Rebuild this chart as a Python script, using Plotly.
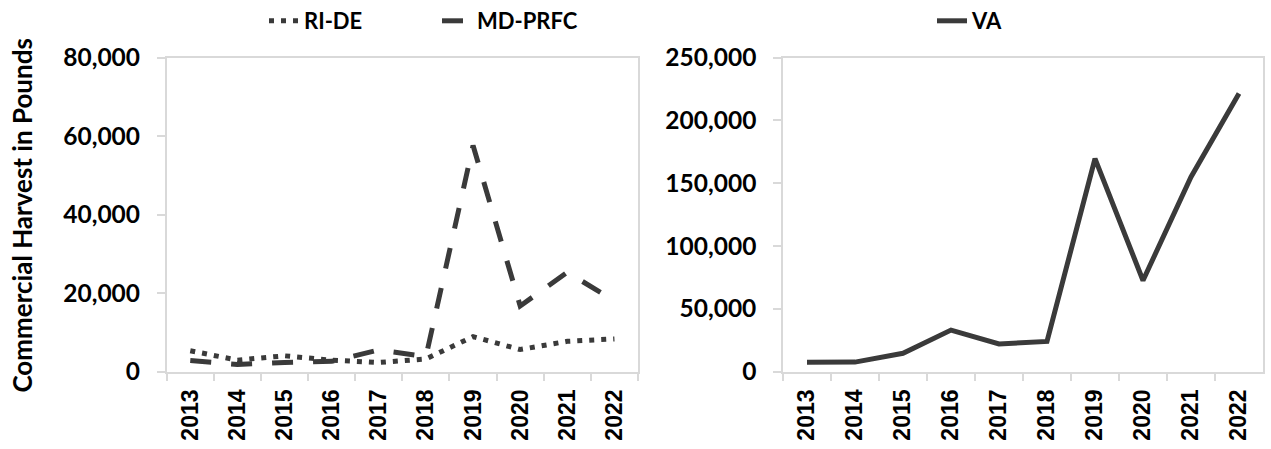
import plotly.graph_objects as go

years = ["2013", "2014", "2015", "2016", "2017", "2018", "2019", "2020", "2021", "2022"]
ri_de = [5300, 2900, 4000, 2900, 2300, 3200, 8900, 5600, 7700, 8300]
md_prfc = [2800, 1800, 2300, 2600, 5500, 3800, 57600, 16700, 25300, 18000]
va = [7400, 7500, 14500, 33000, 21900, 24000, 169600, 72500, 155000, 221500]

left_ticks = [0, 20000, 40000, 60000, 80000]
right_ticks = [0, 50000, 100000, 150000, 200000, 250000]

W, H = 1271, 449
LINE = "#3a3a3a"
GRID = "#d9d9d9"

fig = go.Figure()
fig.add_trace(go.Scatter(x=years, y=ri_de, name="RI-DE", mode="lines",
                         line=dict(color=LINE, width=5, dash="5px,7px"),
                         xaxis="x", yaxis="y", legend="legend"))
fig.add_trace(go.Scatter(x=years, y=md_prfc, name="MD-PRFC", mode="lines",
                         line=dict(color=LINE, width=5, dash="21px,20px"),
                         xaxis="x", yaxis="y", legend="legend"))
fig.add_trace(go.Scatter(x=years, y=va, name="VA", mode="lines",
                         line=dict(color=LINE, width=5),
                         xaxis="x2", yaxis="y2", legend="legend2"))

xfont = dict(family="Liberation Sans", size=23, color="black", weight="bold")
yfont = dict(family="Lato", size=24.5, color="black", weight="bold")

def xaxis_style(domain, anchor):
    return dict(domain=domain, anchor=anchor, type="category", categoryorder="array",
                categoryarray=years, range=[-0.5, len(years) - 0.5],
                tickangle=-90, tickson="boundaries",
                ticks="outside", ticklen=8, tickwidth=1.5, tickcolor=GRID,
                showline=True, linecolor=GRID, linewidth=1.5, mirror=True,
                showgrid=False, zeroline=False, tickfont=xfont,
                ticklabelstandoff=7, automargin=False, fixedrange=True)

def yaxis_style(domain, anchor, ticks):
    return dict(domain=domain, anchor=anchor, range=[ticks[0], ticks[-1]],
                tickmode="array", tickvals=ticks, tickformat=",",
                ticks="outside", ticklen=8, tickwidth=1.5, tickcolor=GRID,
                showline=True, linecolor=GRID, linewidth=1.5, mirror=True,
                showgrid=False, zeroline=False, tickfont=yfont,
                ticklabelstandoff=12, automargin=False, fixedrange=True)

ydom = [(H - 371) / H, (H - 55) / H]
x1dom = [166.7 / W, 638 / W]
x2dom = [783 / W, 1263 / W]

legfont = dict(family="Lato", size=22, color="black", weight="bold")

fig.update_layout(
    width=W, height=H,
    margin=dict(l=0, r=0, t=0, b=0),
    paper_bgcolor="white", plot_bgcolor="white",
    xaxis=xaxis_style(x1dom, "y"),
    yaxis=yaxis_style(ydom, "x", left_ticks),
    xaxis2=xaxis_style(x2dom, "y2"),
    yaxis2=yaxis_style(ydom, "x2", right_ticks),
    legend=dict(orientation="h", x=264 / W, xanchor="left", y=(H - 18) / H, yanchor="middle",
                font=legfont, bgcolor="rgba(0,0,0,0)", itemwidth=30,
                entrywidth=128, entrywidthmode="pixels"),
    legend2=dict(orientation="h", x=932 / W, xanchor="left", y=(H - 18) / H, yanchor="middle",
                 font=legfont, bgcolor="rgba(0,0,0,0)", itemwidth=30),
    annotations=[dict(text="Commercial Harvest in Pounds", xref="paper", yref="paper",
                      x=22 / W, y=(H - 214) / H, xanchor="center", yanchor="middle",
                      textangle=-90, showarrow=False,
                      font=dict(family="Lato", size=26, color="black", weight="bold"))],
)

fig.write_html("out.html", config={"displayModeBar": False},
               post_script="document.body.style.margin='0';document.body.style.overflow='hidden';")
